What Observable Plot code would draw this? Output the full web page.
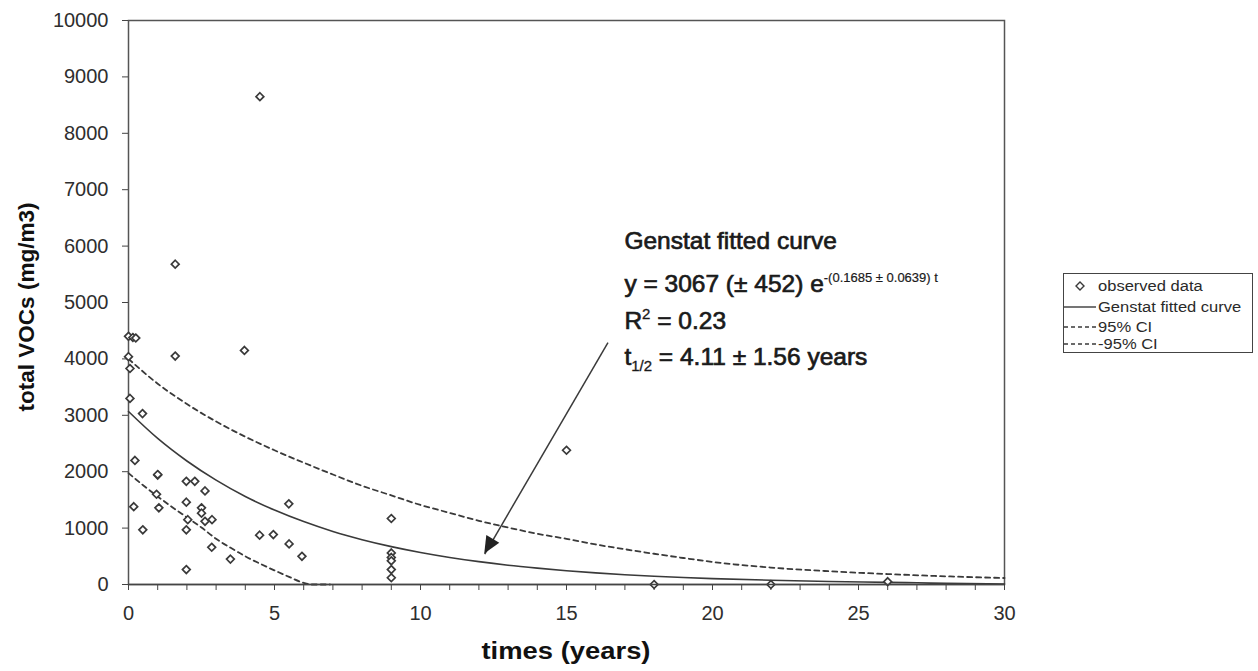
<!DOCTYPE html>
<html>
<head>
<meta charset="utf-8">
<script src="https://cdn.jsdelivr.net/npm/d3@7"></script>
<script src="https://cdn.jsdelivr.net/npm/@observablehq/plot@0.6"></script>
<style>
  html, body { margin: 0; padding: 0; background: #fff; }
  #wrap { position: relative; width: 1258px; height: 671px; font-family: "Liberation Sans", Arial, sans-serif; }
  #legend { position: absolute; left: 1063px; top: 273px; width: 190px; height: 80px; border: 1.5px solid #444; box-sizing: border-box; color: #2a2a2a; }
  #legend .row { position: absolute; left: 0; height: 16px; display: flex; align-items: center; }
  #legend .lab { font-size: 14px; display: inline-block; transform: scaleX(1.18); transform-origin: left center; margin-left: 1px; white-space: nowrap; }
  #legend svg { display: block; }
</style>
</head>
<body>
<div id="wrap"></div>
<script>
// observed data (years, total VOCs mg/m3)
const obsT = [0, 0.15, 0.25, 0, 0.05, 0.05, 0.48, 0.22, 0.18, 0.49, 1.6, 1.6, 4.5, 3.97,
  1.0, 1.0, 0.96, 1.04, 1.98, 2.27, 2.62, 1.98, 2.03, 1.98, 1.98, 2.5, 2.5, 2.62, 2.86, 2.85,
  3.49, 4.49, 4.96, 5.49, 5.5, 5.94, 9, 9, 9, 9, 9, 9, 15, 18, 22, 26];
const obsV = [4400, 4380, 4370, 4040, 3830, 3300, 3030, 2200, 1380, 970, 5680, 4050, 8650, 4150,
  1940, 1950, 1600, 1360, 1830, 1830, 1660, 1460, 1150, 970, 265, 1360, 1265, 1120, 1150, 660,
  450, 875, 885, 1430, 720, 500, 1170, 560, 480, 420, 265, 120, 2380, 0, 0, 50];

// Genstat fitted curve
const fitT = [0, 1, 2, 3, 4, 5, 6, 7, 8, 9, 10, 11, 12, 13, 14, 15, 16, 17, 18, 19, 20, 22, 24, 26, 27, 28, 30];
const fitV = [3067, 2590, 2190, 1850, 1560, 1320, 1115, 940, 795, 672, 568, 480, 405, 342, 290, 244, 206, 174, 147, 124, 105, 75, 54, 38, 30, 20, 10];

// upper 95% CI
const upT = [0, 1, 2, 3, 4, 5, 6, 7, 8, 9, 10, 11, 12, 13, 14, 15, 16, 17, 18, 19, 20, 22, 24, 26, 28, 30];
const upV = [4000, 3560, 3200, 2890, 2620, 2380, 2160, 1950, 1750, 1580, 1410, 1270, 1130, 1010, 900, 810, 710, 625, 545, 470, 400, 300, 235, 185, 145, 115];

// lower -95% CI
const loT = [0, 0.5, 1, 1.5, 2, 2.5, 3, 3.5, 4, 4.5, 5, 5.5, 6, 6.3, 6.9];
const loV = [1975, 1760, 1560, 1370, 1190, 1010, 810, 650, 500, 370, 250, 135, 30, 0, 0];

// axis ticks
const xMinorTicks = d3.range(0, 31, 1);
const xMajorTicks = [0, 5, 10, 15, 20, 25, 30];
const yTicks = [0, 1000, 2000, 3000, 4000, 5000, 6000, 7000, 8000, 9000, 10000];

// annotation arrow (data coords)
const arrowFrom = {t: 16.42, v: 4290};
const arrowTo = {t: 12.2, v: 540};

// annotation text anchor (data coords): left position and line baselines
const annT = 17.0;
const annLines = [5939, 5177, 4521, 3883];

const obs = obsT.map((t, i) => ({t, v: obsV[i]}));
const fit = fitT.map((t, i) => ({t, v: fitV[i]}));
const up = upT.map((t, i) => ({t, v: upV[i]}));
const lo = loT.map((t, i) => ({t, v: loV[i]}));

const ink = "#3a3a3a";

const plot = Plot.plot({
  width: 1258,
  height: 671,
  marginLeft: 128,
  marginRight: 254,
  marginTop: 20,
  marginBottom: 87,
  style: {fontFamily: "Liberation Sans, Arial, sans-serif", fontSize: "20px", color: "#2e2e2e", background: "#fff"},
  x: {domain: [0, 30]},
  y: {domain: [0, 10000]},
  marks: [
    Plot.frame({stroke: "#555", strokeWidth: 1.5}),
    Plot.axisX({ticks: xMinorTicks, tickFormat: () => "", tickSize: 6, stroke: "#444", label: null}),
    Plot.axisX({ticks: xMajorTicks, tickSize: 6, tickPadding: 15, stroke: "#444", fontSize: 20, label: null}),
    Plot.axisY({ticks: yTicks, tickSize: 6, tickPadding: 14, tickFormat: d => String(d), stroke: "#444", fontSize: 20, label: null}),
    Plot.line(up, {x: "t", y: "v", stroke: ink, strokeWidth: 1.8, strokeDasharray: "5,4", curve: "monotone-x"}),
    Plot.line(lo, {x: "t", y: "v", stroke: ink, strokeWidth: 1.8, strokeDasharray: "5,4", curve: "monotone-x"}),
    Plot.line(fit, {x: "t", y: "v", stroke: ink, strokeWidth: 1.6, curve: "monotone-x"}),
    Plot.dot(obs, {x: "t", y: "v", symbol: "diamond2", r: 3.5, stroke: ink, strokeWidth: 1.7, fill: "white"}),
    Plot.link([{x1: arrowFrom.t, y1: arrowFrom.v, x2: arrowTo.t, y2: arrowTo.v}], {x1: "x1", y1: "y1", x2: "x2", y2: "y2", stroke: ink, strokeWidth: 1.5}),
    Plot.ruleY([0], {stroke: "#444", strokeWidth: 1.5})
  ]
});

const sx = plot.scale("x"), sy = plot.scale("y");
const svg = d3.select(plot);

// filled arrow head at the arrow's end
{
  const x1 = sx.apply(arrowFrom.t), y1 = sy.apply(arrowFrom.v);
  const x2 = sx.apply(arrowTo.t), y2 = sy.apply(arrowTo.v);
  const a = Math.atan2(y2 - y1, x2 - x1);
  const L = 17, W = 7.5;
  const bx = x2 - L * Math.cos(a), by = y2 - L * Math.sin(a);
  const px = -Math.sin(a) * W, py = Math.cos(a) * W;
  svg.append("path")
    .attr("d", `M${x2},${y2}L${bx + px},${by + py}L${bx - px},${by - py}Z`)
    .attr("fill", "#222");
}

// axis titles
svg.append("text")
  .attr("transform", `translate(34, ${(sy.apply(0) + sy.apply(10000)) / 2 + 5}) rotate(-90)`)
  .attr("text-anchor", "middle").attr("font-size", 22).attr("font-weight", "bold").attr("fill", "#111")
  .attr("textLength", 209).attr("lengthAdjust", "spacingAndGlyphs")
  .text("total VOCs (mg/m3)");
svg.append("text")
  .attr("x", (sx.apply(0) + sx.apply(30)) / 2).attr("y", 659)
  .attr("text-anchor", "middle").attr("font-size", 23).attr("font-weight", "bold").attr("fill", "#111")
  .attr("textLength", 169).attr("lengthAdjust", "spacingAndGlyphs")
  .text("times (years)");

// annotation text block
const g = svg.append("g").attr("font-size", 24.5).attr("font-weight", "normal")
  .attr("fill", "#1a1a1a").attr("stroke", "#1a1a1a").attr("stroke-width", 0.7).attr("text-anchor", "start");
const ax = sx.apply(annT);
g.append("text").attr("x", ax).attr("y", sy.apply(annLines[0])).text("Genstat fitted curve");
const l2 = g.append("text").attr("x", ax).attr("y", sy.apply(annLines[1]));
l2.append("tspan").text("y = 3067 (± 452) e");
l2.append("tspan").attr("dy", -10).attr("font-size", 13).attr("stroke-width", 0.2).text("-(0.1685 ± 0.0639) t");
const l3 = g.append("text").attr("x", ax).attr("y", sy.apply(annLines[2]));
l3.append("tspan").text("R");
l3.append("tspan").attr("dy", -10).attr("font-size", 15).attr("stroke-width", 0.3).text("2");
l3.append("tspan").attr("dy", 10).text(" = 0.23");
const l4 = g.append("text").attr("x", ax).attr("y", sy.apply(annLines[3]));
l4.append("tspan").text("t");
l4.append("tspan").attr("dy", 6).attr("font-size", 15).attr("stroke-width", 0.3).text("1/2");
l4.append("tspan").attr("dy", -6).text(" = 4.11 ± 1.56 years");

const wrap = document.getElementById("wrap");
wrap.appendChild(plot);
plot.style.position = "absolute";
plot.style.left = "0px";
plot.style.top = "0px";

// legend
const legendItems = [
  {label: "observed data", kind: "dot"},
  {label: "Genstat fitted curve", kind: "solid"},
  {label: "95% CI", kind: "dash"},
  {label: "-95% CI", kind: "dash"}
];
const legendTops = [4, 25, 45, 62];
const leg = document.createElement("div");
leg.id = "legend";
legendItems.forEach((it, i) => {
  const row = document.createElement("div");
  row.className = "row";
  row.style.top = legendTops[i] + "px";
  const s = d3.create("svg").attr("width", 33).attr("height", 16);
  if (it.kind === "dot") {
    s.append("path").attr("d", "M16,4 L20,8 L16,12 L12,8 Z").attr("fill", "white").attr("stroke", ink).attr("stroke-width", 1.4);
  } else {
    s.append("line").attr("x1", 0).attr("x2", 32).attr("y1", 8).attr("y2", 8).attr("stroke", ink).attr("stroke-width", 1.4)
      .attr("stroke-dasharray", it.kind === "dash" ? "4,3" : null);
  }
  row.appendChild(s.node());
  const lab = document.createElement("span");
  lab.className = "lab";
  lab.textContent = it.label;
  row.appendChild(lab);
  leg.appendChild(row);
});
wrap.appendChild(leg);
</script>
</body>
</html>
